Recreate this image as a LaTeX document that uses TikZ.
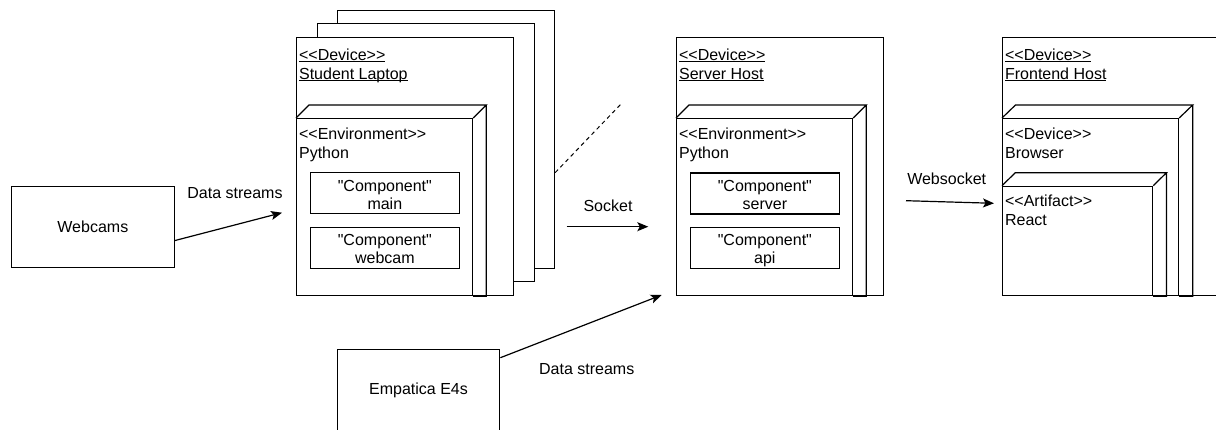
\documentclass[tikz,border=0pt]{standalone}
\usepackage{fontspec}
\setmainfont{Liberation Sans}[Ligatures=TeXOff]
\usetikzlibrary{arrows.meta}

% underline that sits just under the baseline
\newcommand\ulin[1]{\setbox0\hbox{#1}\rlap{\rule[-2pt]{\wd0}{1.1pt}}\box0}
% depth faces of a 3D node box: node name, dx, dy
\newcommand\boxdepth[3]{%
  \draw (#1.north west) -- ++(#2,-#3) -- ([xshift=#2pt,yshift=#3pt]#1.north east) -- (#1.north east)
        ([xshift=#2pt,yshift=#3pt]#1.north east) -- ([xshift=#2pt]#1.south east) -- (#1.south east);}

\begin{document}
\begin{tikzpicture}[x=1pt,y=-1pt,line width=1.2pt,
  txt/.style={font=\fontsize{16}{18.5}\selectfont, inner sep=0pt},
  lbl/.style={txt, anchor=base west},
  box/.style={draw, fill=white, anchor=north west, inner sep=0pt},
  devbox/.style={box, minimum width=#1, minimum height=258pt},
  envbox/.style={box, minimum width=176pt, minimum height=177pt},
  comp/.style={box, minimum width=149.5pt, minimum height=41pt, align=center,
               font=\fontsize{16}{18}\selectfont},
  extbox/.style={box, minimum width=162.5pt, minimum height=81.6pt,
                 font=\fontsize{16}{18.5}\selectfont},
  conn/.style={-{Stealth[length=11pt,width=9pt,inset=2.5pt]}},
]
\useasboundingbox (0,0) rectangle (1216,430);

% ---------- Student Laptop (stacked devices) ----------
\node[devbox=217pt] (lap3) at (337,9.6) {};
\node[devbox=217pt] (lap2) at (316.5,23.3) {};
\node[devbox=217pt] (lap1) at (296,37) {};
\node[lbl] (lapst) at (298.5,60.5) {\ulin{<<Device>>}};
\node[lbl] (lapnm) at (298.5,79.5) {\ulin{Student Laptop}};

\node[envbox] (lapenv) at (296,118) {};
\boxdepth{lapenv}{13}{13}
\node[lbl] (lapenvst) at (298.5,139.5) {<<Environment>>};
\node[lbl] (lapenvnm) at (298.5,158.5) {Python};
\node[comp] (cmain) at (309.5,172.3) {\rule{0pt}{17.8pt}"Component"\\main\rule[-4pt]{0pt}{4pt}};
\node[comp] (ccam) at (309.5,226.7) {\rule{0pt}{17.8pt}"Component"\\webcam\rule[-4pt]{0pt}{4pt}};

% ---------- Server Host ----------
\node[devbox=207pt] (srv) at (676,37) {};
\node[lbl] (srvst) at (678.5,60.5) {\ulin{<<Device>>}};
\node[lbl] (srvnm) at (678.5,79.5) {\ulin{Server Host}};
\node[envbox] (srvenv) at (676,118) {};
\boxdepth{srvenv}{13}{13}
\node[lbl] (srvenvst) at (678.5,139.5) {<<Environment>>};
\node[lbl] (srvenvnm) at (678.5,158.5) {Python};
\node[comp] (cserver) at (689.5,172.5) {\rule{0pt}{17.8pt}"Component"\\server\rule[-4pt]{0pt}{4pt}};
\node[comp] (capi) at (689.5,226.7) {\rule{0pt}{17.8pt}"Component"\\api\rule[-4pt]{0pt}{4pt}};

% ---------- Frontend Host ----------
\node[devbox=220pt] (fe) at (1002,37) {};
\node[lbl] (fest) at (1004.5,60.5) {\ulin{<<Device>>}};
\node[lbl] (fenm) at (1004.5,79.5) {\ulin{Frontend Host}};
\node[envbox] (brw) at (1002,118) {};
\boxdepth{brw}{13.5}{13}
\node[lbl] (brwst) at (1004.5,139.5) {<<Device>>};
\node[lbl] (brwnm) at (1004.5,158.5) {Browser};
\node[box, minimum width=150pt, minimum height=109.3pt] (react) at (1002,185.7) {};
\boxdepth{react}{13.3}{13}
\node[lbl] (reactst) at (1004.5,207) {<<Artifact>>};
\node[lbl] (reactnm) at (1004.5,226) {React};

% ---------- external devices ----------
\node[extbox] (cams) at (11,185.7) {Webcams};
\node[extbox] (e4) at (336.7,349.3) {Empatica E4s};

% ---------- connectors ----------
\coordinate (lapin) at (282,212.7);
\draw[conn] ([yshift=-13.5pt]cams.east) -- (lapin);
\node[txt] (lblcams) at (235,192.7) {Data streams};

\coordinate (dashend) at (621,104);
\draw[line width=1pt, dash pattern=on 4pt off 3.5pt] ([yshift=-33.4pt]lap3.east) -- (dashend);

\coordinate (sockA) at (566.7,226.7);
\coordinate (sockB) at (648.3,226.7);
\draw[conn] (sockA) -- (sockB);
\node[txt] (lblsock) at (608,206) {Socket};

\coordinate (srvin) at (661.7,295);
\draw[conn] ([yshift=-8.4pt]e4.north east) -- (srvin);
\node[txt] (lble4) at (586.7,369.3) {Data streams};

\coordinate (wsA) at (906,200.7);
\coordinate (wsB) at (994,203.3);
\draw[conn] (wsA) -- (wsB);
\node[txt] (lblws) at (946.7,179) {Websocket};
\end{tikzpicture}
\end{document}
